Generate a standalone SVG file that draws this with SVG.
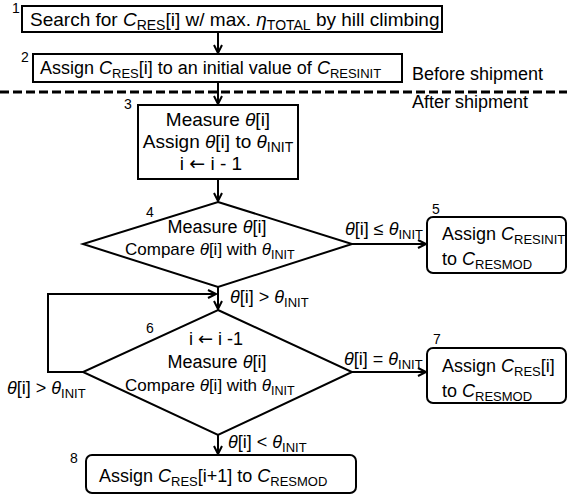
<svg xmlns="http://www.w3.org/2000/svg" width="567" height="497" viewBox="0 0 567 497">
<defs>
<marker id="arr" markerUnits="userSpaceOnUse" markerWidth="12" markerHeight="12" refX="9" refY="5" orient="auto">
<path d="M1,1 L9,5 L1,9" fill="none" stroke="#000" stroke-width="2"/>
</marker>
<style>
text{font-family:"Liberation Sans",Arial,sans-serif;font-size:18px;fill:#000}
.num{font-size:14px}
.i{font-style:italic}
.s{font-size:13px}
.big{font-size:19px}
.big .s{font-size:14px}
.sm{font-size:17px}
.sm .s{font-size:12.5px}
.ar{font-family:"DejaVu Sans",sans-serif}
.box{fill:#fff;stroke:#000;stroke-width:2}
.ln{fill:none;stroke:#000;stroke-width:2}
.c{text-anchor:middle}
</style>
</defs>
<rect width="567" height="497" fill="#fff"/>
<g id="connectors">
<line class="ln" x1="218" y1="33" x2="218" y2="53" marker-end="url(#arr)"/>
<line class="ln" x1="218" y1="82" x2="218" y2="104" marker-end="url(#arr)"/>
<line class="ln" x1="218" y1="179" x2="218" y2="201" marker-end="url(#arr)"/>
<line class="ln" x1="352" y1="244" x2="426" y2="244" marker-end="url(#arr)"/>
<line class="ln" x1="218" y1="287" x2="218" y2="309" marker-end="url(#arr)"/>
<polyline class="ln" points="83,372 48,372 48,294 216,294" marker-end="url(#arr)"/>
<line class="ln" x1="352" y1="372" x2="426" y2="372" marker-end="url(#arr)"/>
<line class="ln" x1="218" y1="435" x2="218" y2="454" marker-end="url(#arr)"/>
<text x="345" y="235"><tspan class="i">θ</tspan>[i] ≤ <tspan class="i">θ</tspan><tspan class="s" dy="4">INIT</tspan></text>
<text x="230" y="303"><tspan class="i">θ</tspan>[i] &gt; <tspan class="i">θ</tspan><tspan class="s" dy="4">INIT</tspan></text>
<text x="7" y="394"><tspan class="i">θ</tspan>[i] &gt; <tspan class="i">θ</tspan><tspan class="s" dy="4">INIT</tspan></text>
<text x="344" y="365"><tspan class="i">θ</tspan>[i] = <tspan class="i">θ</tspan><tspan class="s" dy="4">INIT</tspan></text>
<text x="228" y="448"><tspan class="i">θ</tspan>[i] &lt; <tspan class="i">θ</tspan><tspan class="s" dy="4">INIT</tspan></text>
</g>
<g id="divider">
<line x1="0" y1="92" x2="567" y2="92" stroke="#000" stroke-width="3" stroke-dasharray="9,4"/>
<text x="412" y="80">Before shipment</text>
<text x="412" y="108">After shipment</text>
</g>
<g id="node1">
<rect class="box" x="22" y="6" width="420" height="26"/>
<text class="num" x="12" y="13">1</text>
<text class="big" x="30" y="26">Search for <tspan class="i">C</tspan><tspan class="s" dy="4">RES</tspan><tspan dy="-4">[i] w/ max. </tspan><tspan class="i">η</tspan><tspan class="s" dy="4">TOTAL</tspan><tspan dy="-4"> by hill climbing</tspan></text>
</g>
<g id="node2">
<rect class="box" x="33" y="54" width="369" height="28"/>
<text class="num" x="21" y="62">2</text>
<text x="40" y="74">Assign <tspan class="i">C</tspan><tspan class="s" dy="4">RES</tspan><tspan dy="-4">[i] to an initial value of </tspan><tspan class="i">C</tspan><tspan class="s" dy="4">RESINIT</tspan></text>
</g>
<g id="node3">
<rect class="box" x="138" y="105" width="160" height="74"/>
<text class="num" x="124" y="109">3</text>
<text class="c big" x="218" y="126">Measure <tspan class="i">θ</tspan>[i]</text>
<text class="c big" x="218" y="148">Assign <tspan class="i">θ</tspan>[i] to <tspan class="i">θ</tspan><tspan class="s" dy="4">INIT</tspan></text>
<text class="c big" x="211" y="170">i <tspan class="ar">←</tspan> i - 1</text>
</g>
<g id="node4">
<polygon class="box" points="218,202 352,244 218,287 83,244"/>
<text class="num" x="146" y="217">4</text>
<text class="c" x="217" y="233">Measure <tspan class="i">θ</tspan>[i]</text>
<text class="sm" x="125" y="255">Compare <tspan class="i">θ</tspan>[i] with <tspan class="i">θ</tspan><tspan class="s" dy="4">INIT</tspan></text>
</g>
<g id="node5">
<rect class="box" x="427" y="217" width="139" height="56" rx="6"/>
<text class="num" x="432" y="214">5</text>
<text x="442" y="240">Assign <tspan class="i">C</tspan><tspan class="s" dy="4">RESINIT</tspan></text>
<text x="442" y="265">to <tspan class="i">C</tspan><tspan class="s" dy="4">RESMOD</tspan></text>
</g>
<g id="node6">
<polygon class="box" points="218,310 352,372 218,435 83,372"/>
<text class="num" x="146" y="333">6</text>
<text class="c" x="216" y="345">i <tspan class="ar">←</tspan> i -1</text>
<text class="c" x="217" y="368">Measure <tspan class="i">θ</tspan>[i]</text>
<text class="sm" x="125" y="391">Compare <tspan class="i">θ</tspan>[i] with <tspan class="i">θ</tspan><tspan class="s" dy="4">INIT</tspan></text>
</g>
<g id="node7">
<rect class="box" x="427" y="348" width="139" height="55" rx="6"/>
<text class="num" x="433" y="344">7</text>
<text x="442" y="372">Assign <tspan class="i">C</tspan><tspan class="s" dy="4">RES</tspan><tspan dy="-4">[i]</tspan></text>
<text x="442" y="397">to <tspan class="i">C</tspan><tspan class="s" dy="4">RESMOD</tspan></text>
</g>
<g id="node8">
<rect class="box" x="86" y="455" width="270" height="38" rx="6"/>
<text class="num" x="70" y="463">8</text>
<text x="99" y="482">Assign <tspan class="i">C</tspan><tspan class="s" dy="4">RES</tspan><tspan dy="-4">[i+1] to </tspan><tspan class="i">C</tspan><tspan class="s" dy="4">RESMOD</tspan></text>
</g>
</svg>
